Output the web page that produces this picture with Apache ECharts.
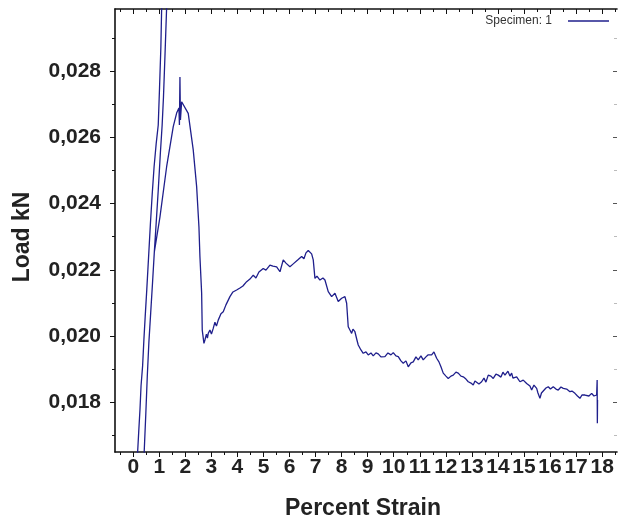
<!DOCTYPE html>
<html>
<head>
<meta charset="utf-8">
<script src="https://cdn.jsdelivr.net/npm/echarts@6/dist/echarts.min.js"></script>
<style>
  html, body { margin: 0; padding: 0; background: #fff; }
  #chart { width: 618px; height: 522px; }
</style>
</head>
<body>
<div id="chart"></div>
<script>
// Axis ticks
const strainTicks = [0, 1, 2, 3, 4, 5, 6, 7, 8, 9, 10, 11, 12, 13, 14, 15, 16, 17, 18];
const strainMinorTicks = [-0.5, 0.5, 1.5, 2.5, 3.5, 4.5, 5.5, 6.5, 7.5, 8.5, 9.5, 10.5, 11.5, 12.5, 13.5, 14.5, 15.5, 16.5, 17.5, 18.5];
const loadTicks = [0.018, 0.020, 0.022, 0.024, 0.026, 0.028];
const loadMinorTicks = [0.017, 0.019, 0.021, 0.023, 0.025, 0.027, 0.029];

// Initial loading ramps (percent strain, kN)
const rampStrain = [0.133, 0.169, 0.21, 0.26, 0.30, 0.36, 0.41, 0.46, 0.52, 0.60, 0.66, 0.73, 0.80, 0.88, 0.96, 1.01, 1.06, 1.09, 1.14,
  1.30, 1.28, 1.22, 1.16, 1.11, 1.04, 0.96, 0.88, 0.81, 0.74, 0.67, 0.60, 0.54, 0.48, 0.42, 0.40,
  0.42, 0.48, 0.54, 0.60, 0.67, 0.74, 0.81];
const rampLoad = [0.0160, 0.0165, 0.0171, 0.0178, 0.0185, 0.0191, 0.0199, 0.0206, 0.0214, 0.02254, 0.0234, 0.0243, 0.0251, 0.0258, 0.02637, 0.0275, 0.0287, 0.02987, 0.0304,
  0.0304, 0.02987, 0.0285, 0.0272, 0.02637, 0.0255, 0.0244, 0.0234, 0.02254, 0.0216, 0.0207, 0.0198, 0.0188, 0.0176, 0.0165, 0.0160,
  0.0165, 0.0176, 0.0188, 0.0198, 0.0207, 0.0216, 0.02254];

// Main test record (percent strain, kN)
const testStrain = [0.833, 1.025, 1.282, 1.536, 1.666, 1.754, 1.773, 1.793, 1.812, 1.858,
  1.919, 2.111, 2.303, 2.434, 2.522, 2.560, 2.626, 2.649, 2.714, 2.752,
  2.810, 2.848, 2.879, 2.944, 3.002, 3.071, 3.136, 3.194, 3.263, 3.367,
  3.455, 3.559, 3.712, 3.827, 3.969, 4.096, 4.211, 4.353, 4.480, 4.607,
  4.710, 4.825, 4.990, 5.094, 5.248, 5.363, 5.505, 5.633, 5.758, 5.862,
  6.015, 6.131, 6.207, 6.322, 6.465, 6.553, 6.630, 6.718, 6.783, 6.848,
  6.910, 6.975, 7.052, 7.167, 7.282, 7.359, 7.486, 7.616, 7.743, 7.870,
  8.000, 8.127, 8.192, 8.253, 8.318, 8.384, 8.434, 8.510, 8.587, 8.637,
  8.741, 8.829, 8.933, 9.021, 9.125, 9.213, 9.317, 9.405, 9.508, 9.662,
  9.777, 9.893, 9.981, 10.084, 10.173, 10.276, 10.365, 10.468, 10.557, 10.660,
  10.749, 10.852, 10.940, 11.044, 11.132, 11.236, 11.313, 11.455, 11.543, 11.647,
  11.735, 11.812, 11.900, 12.004, 12.092, 12.196, 12.284, 12.388, 12.476, 12.580,
  12.668, 12.772, 12.860, 12.964, 13.052, 13.117, 13.182, 13.271, 13.374, 13.463,
  13.539, 13.628, 13.731, 13.820, 13.923, 14.012, 14.115, 14.192, 14.269, 14.384,
  14.461, 14.526, 14.576, 14.718, 14.845, 14.971, 15.102, 15.163, 15.228, 15.294,
  15.382, 15.486, 15.536, 15.612, 15.670, 15.739, 15.843, 15.931, 16.015, 16.123,
  16.227, 16.315, 16.419, 16.507, 16.637, 16.764, 16.841, 16.956, 17.052, 17.148,
  17.225, 17.340, 17.416, 17.493, 17.597, 17.685, 17.789, 17.808, 17.816, 17.823];
const testLoad = [0.02260, 0.02359, 0.02511, 0.02632, 0.02673, 0.02688, 0.02637, 0.02782, 0.02652, 0.02707,
  0.02707, 0.02672, 0.02562, 0.02451, 0.02330, 0.02240, 0.02129, 0.02018, 0.01978, 0.01988,
  0.02006, 0.01994, 0.02008, 0.02018, 0.02006, 0.02023, 0.02042, 0.02030, 0.02048, 0.02067,
  0.02073, 0.02094, 0.02119, 0.02133, 0.02139, 0.02145, 0.02151, 0.02164, 0.02172, 0.02184,
  0.02175, 0.02193, 0.02204, 0.02199, 0.02214, 0.02211, 0.02209, 0.02194, 0.02230, 0.02220,
  0.02209, 0.02217, 0.02220, 0.02230, 0.02240, 0.02233, 0.02251, 0.02258, 0.02257, 0.02248,
  0.02230, 0.02174, 0.02181, 0.02169, 0.02175, 0.02169, 0.02134, 0.02119, 0.02129, 0.02104,
  0.02114, 0.02119, 0.02099, 0.02028, 0.02018, 0.02008, 0.02021, 0.02013, 0.01988, 0.01973,
  0.01958, 0.01948, 0.01952, 0.01943, 0.01949, 0.01940, 0.01949, 0.01946, 0.01937, 0.01938,
  0.01949, 0.01943, 0.01950, 0.01940, 0.01938, 0.01925, 0.01918, 0.01925, 0.01907, 0.01919,
  0.01922, 0.01937, 0.01928, 0.01940, 0.01928, 0.01937, 0.01943, 0.01943, 0.01952, 0.01933,
  0.01922, 0.01907, 0.01888, 0.01879, 0.01872, 0.01879, 0.01882, 0.01891, 0.01888, 0.01879,
  0.01877, 0.01870, 0.01862, 0.01858, 0.01852, 0.01864, 0.01867, 0.01855, 0.01862, 0.01873,
  0.01861, 0.01882, 0.01879, 0.01872, 0.01885, 0.01882, 0.01876, 0.01891, 0.01882, 0.01894,
  0.01879, 0.01888, 0.01873, 0.01877, 0.01862, 0.01867, 0.01857, 0.01852, 0.01849, 0.01837,
  0.01852, 0.01842, 0.01828, 0.01812, 0.01828, 0.01832, 0.01843, 0.01847, 0.01840, 0.01847,
  0.01840, 0.01837, 0.01846, 0.01842, 0.01840, 0.01832, 0.01834, 0.01827, 0.01819, 0.01812,
  0.01822, 0.01822, 0.01828, 0.01819, 0.01827, 0.01819, 0.01822, 0.01867, 0.01737, 0.01807];

const X_MIN = -0.7, X_MAX = 18.57;
const Y_MIN = 0.0165, Y_MAX = 0.02987;
const FONT = '"Liberation Sans", Arial, sans-serif';
const LINE_COLOR = '#1f1f8c';

const points = [];
rampStrain.forEach((s, i) => points.push([s, rampLoad[i]]));
testStrain.forEach((s, i) => points.push([s, testLoad[i]]));

function xAxisDef(position, ticks, len, inside, withLabels, withLine) {
  return {
    type: 'value', position, min: X_MIN, max: X_MAX,
    axisLine: { show: withLine, onZero: false, lineStyle: { color: '#111', width: 1.6 } },
    axisTick: { show: true, customValues: ticks, length: len, inside, lineStyle: { color: '#111', width: 1 } },
    axisLabel: withLabels ? {
      show: true, customValues: ticks, interval: 0, margin: 5,
      fontFamily: FONT, fontSize: 21, fontWeight: 'bold', color: '#222',
      formatter: v => String(Math.round(v))
    } : { show: false },
    splitLine: { show: false }
  };
}

function yAxisDef(position, ticks, len, inside, withLabels, withLine, tickColor) {
  return {
    type: 'value', position, min: Y_MIN, max: Y_MAX,
    axisLine: { show: withLine, onZero: false, lineStyle: { color: '#111', width: 1.6 } },
    axisTick: { show: true, customValues: ticks, length: len, inside, lineStyle: { color: tickColor, width: 1 } },
    axisLabel: withLabels ? {
      show: true, customValues: ticks, margin: 14,
      fontFamily: FONT, fontSize: 21, fontWeight: 'bold', color: '#222',
      formatter: v => v.toFixed(3).replace('.', ',')
    } : { show: false },
    splitLine: { show: false }
  };
}

const chart = echarts.init(document.getElementById('chart'), null, { renderer: 'canvas' });
chart.setOption({
  animation: false,
  backgroundColor: '#ffffff',
  grid: { left: 115, right: 1, top: 9, bottom: 70, containLabel: false },
  xAxis: [
    xAxisDef('bottom', strainTicks, 5, false, true, true),
    xAxisDef('bottom', strainMinorTicks, 3, false, false, false),
    xAxisDef('top', strainTicks, 5, true, false, true),
    xAxisDef('top', strainMinorTicks, 3, true, false, false)
  ],
  yAxis: [
    yAxisDef('left', loadTicks, 5, false, true, true, '#111'),
    yAxisDef('left', loadMinorTicks, 3, false, false, false, '#111'),
    yAxisDef('right', loadTicks, 4, true, false, false, '#555'),
    yAxisDef('right', loadMinorTicks, 3, true, false, false, '#bbb')
  ],
  legend: {
    data: ['Specimen: 1'],
    right: 9, top: 15, padding: 0,
    align: 'right',
    icon: 'path://M0,0L40,0L40,1.4L0,1.4Z',
    itemWidth: 41, itemHeight: 1.5,
    textStyle: { fontFamily: FONT, fontSize: 12, color: '#333', padding: [0, 11, 0, 0] }
  },
  graphic: [
    {
      type: 'text', x: 363, y: 509,
      style: { text: 'Percent Strain', font: 'bold 23px ' + FONT, fill: '#222', align: 'center', verticalAlign: 'middle' }
    },
    {
      type: 'text', x: 23, y: 237, rotation: Math.PI / 2,
      style: { text: 'Load kN', font: 'bold 23px ' + FONT, fill: '#222', align: 'center', verticalAlign: 'middle' }
    }
  ],
  series: [{
    name: 'Specimen: 1',
    type: 'line',
    xAxisIndex: 0, yAxisIndex: 0,
    data: points,
    showSymbol: false,
    clip: true,
    lineStyle: { color: LINE_COLOR, width: 1.3 },
    itemStyle: { color: LINE_COLOR }
  }]
});
</script>
</body>
</html>
